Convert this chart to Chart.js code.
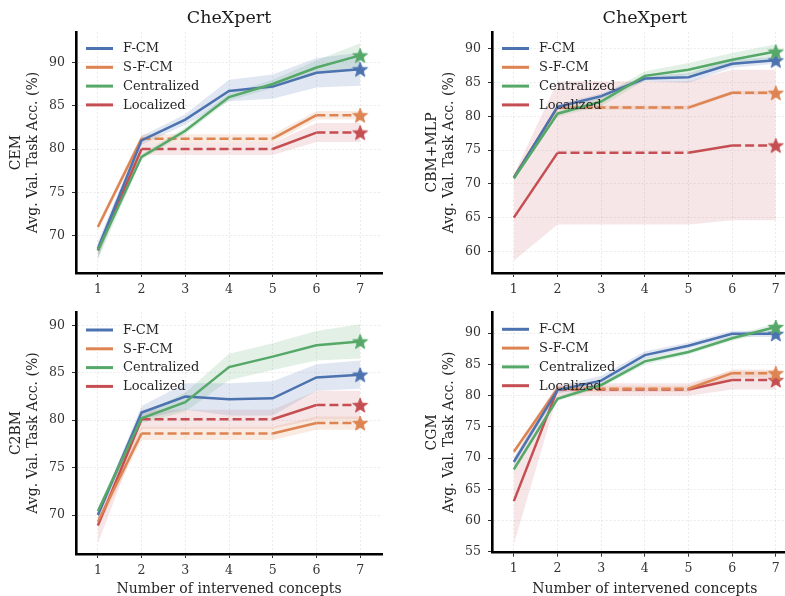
<!DOCTYPE html>
<html>
<head>
<meta charset="utf-8">
<script src="https://cdn.jsdelivr.net/npm/chart.js@4.4.1/dist/chart.umd.min.js"></script>
<style>
  html, body { margin: 0; padding: 0; background: #fff; width: 785px; height: 596px; overflow: hidden; }
  canvas { position: absolute; }
</style>
</head>
<body>
<canvas id="cem" width="400" height="296" style="left:0;top:0"></canvas>
<canvas id="cbm" width="400" height="296" style="left:400px;top:0"></canvas>
<canvas id="c2bm" width="400" height="300" style="left:0;top:296px"></canvas>
<canvas id="cgm" width="400" height="300" style="left:400px;top:296px"></canvas>
<script>
// x axis: number of intervened concepts
const concepts = ['1', '2', '3', '4', '5', '6', '7'];
const seriesNames = ['F-CM', 'S-F-CM', 'Centralized', 'Localized'];

// y tick labels per model
const cemTicks = [70, 75, 80, 85, 90];
const cbmTicks = [60, 65, 70, 75, 80, 85, 90];
const c2bmTicks = [70, 75, 80, 85, 90];
const cgmTicks = [55, 60, 65, 70, 75, 80, 85, 90];

// CEM: mean and std band
const cemFCM = [68.5, 81.0, 83.4, 86.7, 87.2, 88.8, 89.2];
const cemFCMLow = [67.4, 80.5, 82.8, 85.5, 85.8, 87.1, 87.3];
const cemFCMHigh = [69.3, 81.5, 84.0, 88.0, 88.6, 90.5, 91.1];
const cemSFCM = [71.0, 81.2, 81.2, 81.2, 81.2, 83.9, 83.9];
const cemSFCMLow = [70.6, 80.7, 80.7, 80.7, 80.7, 83.4, 83.4];
const cemSFCMHigh = [71.4, 81.7, 81.7, 81.7, 81.7, 84.4, 84.4];
const cemCentral = [68.3, 79.1, 82.1, 86.0, 87.5, 89.4, 90.8];
const cemCentralLow = [67.2, 78.8, 81.7, 85.6, 87.0, 88.6, 89.4];
const cemCentralHigh = [69.0, 79.4, 82.5, 86.4, 88.0, 90.2, 92.2];
const cemLocal = [68.3, 80.0, 80.0, 80.0, 80.0, 81.9, 81.9];
const cemLocalLow = [67.5, 79.3, 79.3, 79.3, 79.3, 80.8, 80.8];
const cemLocalHigh = [69.0, 80.7, 80.7, 80.7, 80.7, 83.0, 83.0];

// CBM+MLP
const cbmFCM = [70.9, 81.4, 83.0, 85.6, 85.8, 87.8, 88.3];
const cbmFCMLow = [70.6, 81.0, 82.6, 85.2, 85.0, 87.2, 87.8];
const cbmFCMHigh = [71.2, 81.8, 83.4, 86.0, 86.4, 88.4, 88.8];
const cbmSFCM = [71.0, 81.3, 81.3, 81.3, 81.3, 83.5, 83.5];
const cbmSFCMLow = [70.7, 81.0, 81.0, 81.0, 81.0, 83.2, 83.2];
const cbmSFCMHigh = [71.3, 81.6, 81.6, 81.6, 81.6, 83.8, 83.8];
const cbmCentral = [70.8, 80.4, 82.2, 86.0, 86.9, 88.4, 89.6];
const cbmCentralLow = [70.5, 80.0, 81.5, 85.3, 86.1, 87.5, 88.6];
const cbmCentralHigh = [71.1, 80.8, 83.0, 86.7, 87.9, 89.4, 90.7];
const cbmLocal = [65.0, 74.6, 74.6, 74.6, 74.6, 75.7, 75.7];
const cbmLocalLow = [58.6, 64.0, 64.0, 64.0, 64.0, 64.6, 64.6];
const cbmLocalHigh = [71.4, 85.2, 85.2, 85.2, 85.2, 86.9, 86.9];

// C2BM
const c2bmFCM = [70.0, 80.8, 82.5, 82.2, 82.3, 84.5, 84.8];
const c2bmFCMLow = [69.6, 80.1, 81.1, 80.5, 80.5, 83.1, 83.3];
const c2bmFCMHigh = [70.4, 81.5, 83.9, 83.9, 84.1, 85.9, 86.3];
const c2bmSFCM = [69.3, 78.6, 78.6, 78.6, 78.6, 79.7, 79.7];
const c2bmSFCMLow = [68.7, 77.9, 77.9, 77.9, 77.9, 79.0, 79.0];
const c2bmSFCMHigh = [69.9, 79.3, 79.3, 79.3, 79.3, 80.4, 80.4];
const c2bmCentral = [70.4, 80.2, 81.9, 85.6, 86.7, 87.9, 88.3];
const c2bmCentralLow = [70.0, 79.7, 80.9, 84.2, 85.3, 86.3, 86.5];
const c2bmCentralHigh = [70.8, 80.7, 82.9, 87.0, 88.1, 89.4, 90.1];
const c2bmLocal = [68.9, 80.1, 80.1, 80.1, 80.1, 81.6, 81.6];
const c2bmLocalLow = [67.0, 79.1, 79.1, 79.1, 79.1, 80.1, 80.1];
const c2bmLocalHigh = [70.6, 81.1, 81.1, 81.1, 81.1, 83.1, 83.1];

// CGM
const cgmFCM = [69.4, 80.9, 82.4, 86.5, 88.0, 89.9, 89.9];
const cgmFCMLow = [68.8, 80.3, 81.6, 85.9, 87.5, 89.4, 89.4];
const cgmFCMHigh = [70.0, 81.5, 83.2, 87.1, 88.5, 90.4, 90.4];
const cgmSFCM = [71.0, 81.1, 81.1, 81.1, 81.1, 83.6, 83.6];
const cgmSFCMLow = [70.6, 80.6, 80.6, 80.6, 80.6, 82.9, 82.9];
const cgmSFCMHigh = [71.4, 81.6, 81.6, 81.6, 81.6, 84.2, 84.2];
const cgmCentral = [68.2, 79.5, 81.7, 85.5, 87.0, 89.2, 91.0];
const cgmCentralLow = [67.7, 79.1, 81.3, 85.0, 86.6, 88.8, 90.4];
const cgmCentralHigh = [68.7, 79.9, 82.1, 86.0, 87.4, 89.6, 91.6];
const cgmLocal = [63.1, 81.0, 81.0, 81.0, 81.0, 82.5, 82.5];
const cgmLocalLow = [56.2, 80.0, 80.0, 80.0, 80.0, 81.0, 81.0];
const cgmLocalHigh = [70.0, 82.0, 82.0, 82.0, 82.0, 84.0, 84.0];

// ---- styling ----
const FONT = '"DejaVu Serif", serif';
const TEXT = '#262626';
const colors = ['#4C72B0', '#DD8452', '#55A868', '#C44E52'];
const bandColors = ['rgba(76,114,176,0.17)', 'rgba(221,132,82,0.17)', 'rgba(85,168,104,0.17)', 'rgba(196,78,82,0.14)'];
// series with a frozen plateau (drawn dashed while flat)
const plateauDashed = [false, true, false, true];
// stacking: Centralized on top, Localized at the bottom
const lineOrder = [1, 2, 0, 3];

Chart.defaults.font.family = FONT;
Chart.defaults.color = TEXT;

function starMarker(color, r) {
  const size = Math.ceil(r * 2 + 4);
  const c = document.createElement('canvas');
  c.width = size; c.height = size;
  const g = c.getContext('2d');
  g.translate(size / 2, size / 2 + r * 0.1);
  g.beginPath();
  for (let i = 0; i < 10; i++) {
    const rad = i % 2 === 0 ? r : r * 0.42;
    const a = -Math.PI / 2 + i * Math.PI / 5;
    g.lineTo(rad * Math.cos(a), rad * Math.sin(a));
  }
  g.closePath();
  g.fillStyle = color;
  g.fill();
  g.lineWidth = 1;
  g.strokeStyle = color;
  g.stroke();
  return c;
}
const stars = colors.map(c => starMarker(c, 7.8));

const insideLegend = {
  id: 'insideLegend',
  afterDatasetsDraw(chart, args, opts) {
    const { ctx, chartArea } = chart;
    ctx.save();
    ctx.font = '13px ' + FONT;
    ctx.textBaseline = 'middle';
    ctx.textAlign = 'left';
    seriesNames.forEach((name, i) => {
      const y = chartArea.top + opts.top + i * 18.8;
      const x = chartArea.left + 10;
      ctx.strokeStyle = colors[i];
      ctx.lineWidth = 3;
      ctx.beginPath();
      ctx.moveTo(x, y);
      ctx.lineTo(x + 27, y);
      ctx.stroke();
      ctx.fillStyle = TEXT;
      ctx.fillText(name, x + 37, y + 0.5);
    });
    ctx.restore();
  }
};

function buildChart(id, cfg) {
  const datasets = [];
  cfg.series.forEach((s, i) => {
    const [mean, low, high] = s;
    const lowIndex = datasets.length;
    datasets.push({ data: low, borderWidth: 0, pointRadius: 0, fill: false, order: 20 + i });
    datasets.push({ data: high, borderWidth: 0, pointRadius: 0, fill: lowIndex,
                    backgroundColor: bandColors[i], order: 20 + i });
  });
  cfg.series.forEach((s, i) => {
    const mean = s[0];
    const last = mean.length - 1;
    datasets.push({
      label: seriesNames[i],
      data: mean,
      borderColor: colors[i],
      backgroundColor: colors[i],
      borderWidth: 2.5,
      tension: 0,
      fill: false,
      order: lineOrder[i],
      pointStyle: stars[i],
      pointRadius: c => (c.dataIndex === last ? 7 : 0),
      segment: {
        borderDash: c => (plateauDashed[i] && c.p0.parsed.y === c.p1.parsed.y ? [9, 4] : undefined)
      }
    });
  });

  return new Chart(document.getElementById(id), {
    type: 'line',
    data: { labels: concepts, datasets },
    plugins: [insideLegend],
    options: {
      responsive: false,
      animation: false,
      events: [],
      layout: { padding: cfg.padding, autoPadding: false },
      plugins: {
        legend: { display: false },
        tooltip: { enabled: false },
        insideLegend: { top: cfg.legendTop },
        title: {
          display: !!cfg.title,
          text: cfg.title,
          fullSize: false,
          color: '#1a1a1a',
          font: { family: FONT, size: 17.5, weight: 'normal', lineHeight: 1.2 },
          padding: { top: 7.8, bottom: 3.2 }
        }
      },
      scales: {
        x: {
          type: 'category',
          offset: true,
          afterFit: s => { s.height = cfg.xHeight; },
          grid: { offset: false, color: 'rgba(0,0,0,0.08)', lineWidth: 1, tickColor: '#333', tickLength: 4, tickWidth: 1 },
          border: { display: true, color: '#000', width: 2.6, dash: [2, 2] },
          ticks: { font: { size: 12.5 }, color: '#333', padding: 5, maxRotation: 0 },
          title: {
            display: !!cfg.xTitle,
            text: cfg.xTitle,
            color: TEXT,
            font: { size: 14, lineHeight: 1.2 },
            padding: { top: 0, bottom: -1.5 }
          }
        },
        y: {
          type: 'linear',
          min: cfg.yMin,
          max: cfg.yMax,
          afterFit: s => { s.width = 76; },
          afterBuildTicks: s => { s.ticks = cfg.yTicks.map(v => ({ value: v })); },
          grid: { color: 'rgba(0,0,0,0.08)', lineWidth: 1, tickColor: '#333', tickLength: 4, tickWidth: 1 },
          border: { display: true, color: '#000', width: 2.6, dash: [2, 2] },
          ticks: { font: { size: 12.5 }, color: '#333', padding: 7 },
          title: {
            display: true,
            text: [cfg.model, 'Avg. Val. Task Acc. (%)'],
            color: TEXT,
            font: { size: 14, lineHeight: 1.2 },
            padding: { top: 8, bottom: 0 }
          }
        }
      }
    }
  });
}

buildChart('cem', {
  title: 'CheXpert', model: 'CEM', yTicks: cemTicks, yMin: 65.7, yMax: 93.5,
  padding: { left: 0, right: 18, top: 0, bottom: 0 }, xHeight: 23, legendTop: 16.5,
  series: [[cemFCM, cemFCMLow, cemFCMHigh], [cemSFCM, cemSFCMLow, cemSFCMHigh],
           [cemCentral, cemCentralLow, cemCentralHigh], [cemLocal, cemLocalLow, cemLocalHigh]]
});
buildChart('cbm', {
  title: 'CheXpert', model: 'CBM+MLP', yTicks: cbmTicks, yMin: 56.8, yMax: 92.5,
  padding: { left: 16, right: 2.4, top: 0, bottom: 0 }, xHeight: 23, legendTop: 16.5,
  series: [[cbmFCM, cbmFCMLow, cbmFCMHigh], [cbmSFCM, cbmSFCMLow, cbmSFCMHigh],
           [cbmCentral, cbmCentralLow, cbmCentralHigh], [cbmLocal, cbmLocalLow, cbmLocalHigh]]
});
buildChart('c2bm', {
  title: '', model: 'C2BM', yTicks: c2bmTicks, yMin: 65.9, yMax: 91.4,
  padding: { left: 0, right: 18, top: 16, bottom: 0 }, xHeight: 42, legendTop: 18,
  xTitle: 'Number of intervened concepts',
  series: [[c2bmFCM, c2bmFCMLow, c2bmFCMHigh], [c2bmSFCM, c2bmSFCMLow, c2bmSFCMHigh],
           [c2bmCentral, c2bmCentralLow, c2bmCentralHigh], [c2bmLocal, c2bmLocalLow, c2bmLocalHigh]]
});
buildChart('cgm', {
  title: '', model: 'CGM', yTicks: cgmTicks, yMin: 54.84, yMax: 93.4,
  padding: { left: 16, right: 2.4, top: 16, bottom: 0 }, xHeight: 43.3, legendTop: 17.3,
  xTitle: 'Number of intervened concepts',
  series: [[cgmFCM, cgmFCMLow, cgmFCMHigh], [cgmSFCM, cgmSFCMLow, cgmSFCMHigh],
           [cgmCentral, cgmCentralLow, cgmCentralHigh], [cgmLocal, cgmLocalLow, cgmLocalHigh]]
});
</script>
</body>
</html>
